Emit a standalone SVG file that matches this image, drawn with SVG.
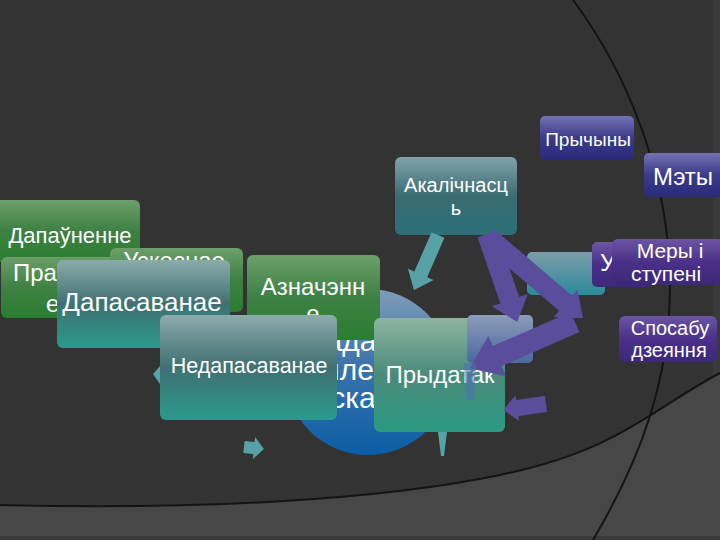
<svg xmlns="http://www.w3.org/2000/svg" width="720" height="540" viewBox="0 0 720 540">
<defs>
<linearGradient id="gGreen" x1="0" y1="0" x2="0" y2="1"><stop offset="0" stop-color="#6c9f6a"/><stop offset="0.5" stop-color="#3e8043"/><stop offset="1" stop-color="#2b7e31"/></linearGradient>
<linearGradient id="gTeal" x1="0" y1="0" x2="0" y2="1"><stop offset="0" stop-color="#8cabab"/><stop offset="0.5" stop-color="#407073"/><stop offset="1" stop-color="#2a9a8e"/></linearGradient>
<linearGradient id="gTealB" x1="0" y1="0" x2="0" y2="1"><stop offset="0" stop-color="#82a3aa"/><stop offset="0.5" stop-color="#3b6b73"/><stop offset="1" stop-color="#2b7079"/></linearGradient>
<linearGradient id="gTealC" x1="0" y1="0" x2="0" y2="1"><stop offset="0" stop-color="#7d9caa"/><stop offset="1" stop-color="#2a8a9a"/></linearGradient>
<linearGradient id="gPryd" x1="0" y1="0" x2="0" y2="1"><stop offset="0" stop-color="#8db5a2"/><stop offset="0.5" stop-color="#4a8a7a"/><stop offset="1" stop-color="#2b9b82"/></linearGradient>
<linearGradient id="gNavy" x1="0" y1="0" x2="0" y2="1"><stop offset="0" stop-color="#7272b2"/><stop offset="0.5" stop-color="#3b3b8a"/><stop offset="1" stop-color="#2a2a7a"/></linearGradient>
<linearGradient id="gPurple" x1="0" y1="0" x2="0" y2="1"><stop offset="0" stop-color="#6c55a4"/><stop offset="0.5" stop-color="#4a3088"/><stop offset="1" stop-color="#3c2878"/></linearGradient>
<linearGradient id="gBlueBox" x1="0" y1="0" x2="0" y2="1"><stop offset="0" stop-color="#8c9cb8"/><stop offset="1" stop-color="#4a68a2"/></linearGradient>
<linearGradient id="gCircle" x1="0" y1="0" x2="0" y2="1"><stop offset="0" stop-color="#7f9db8"/><stop offset="0.45" stop-color="#3d74aa"/><stop offset="1" stop-color="#0a5ea6"/></linearGradient>
</defs>
<style>
text{fill:#ffffff;font-family:"Liberation Sans",Arial,sans-serif;text-anchor:middle}
.st{text-anchor:start}
.bg-line{fill:none;stroke:#141414;stroke-width:2}
.ap{fill:#5a4e9c}
.at{fill:#56a2a6}
</style>

<g id="background">
<rect x="0" y="0" width="720" height="540" fill="#333333"/>
<rect x="713" y="0" width="7" height="540" fill="#3a3a3a"/>
<path d="M0,505 C200,510 380,500 500,475 S650,410 720,373 V540 H0 Z" fill="#474747"/>
<rect x="0" y="536" width="720" height="4" fill="#3b3b3b"/>
<path class="bg-line" d="M0,505 C200,510 380,500 500,475 S650,410 720,373"/>
<path class="bg-line" d="M573,0 C625,70 668,170 670,280 C671,380 640,460 593,540"/>
</g>

<g id="node-circle">
<circle cx="368" cy="372" r="83" fill="url(#gCircle)"/>
<text x="368" y="351" font-size="30">Даданыя</text>
<text x="368" y="380" font-size="30">члены</text>
<text x="368" y="408" font-size="30">сказа</text>
</g>

<g id="node-prychyny">
<rect x="540" y="116" width="94" height="44" rx="5" fill="url(#gNavy)"/>
<text x="588" y="146" font-size="19">Прычыны</text>
</g>
<g id="node-mety">
<rect x="644" y="153" width="80" height="44" rx="5" fill="url(#gNavy)"/>
<text x="683" y="185" font-size="24">Мэты</text>
</g>
<g id="node-akalichnasc">
<rect x="395" y="157" width="122" height="78" rx="6" fill="url(#gTealB)"/>
<text x="456" y="192" font-size="20">Акалічнасц</text>
<text x="456" y="215" font-size="20">ь</text>
</g>
<g id="node-teal-box">
<rect x="527" y="252" width="78" height="43" rx="5" fill="url(#gTealC)"/>
</g>
<g id="node-u">
<rect x="592" y="242" width="60" height="45" rx="5" fill="url(#gPurple)"/>
<text class="st" x="600" y="271" font-size="24">У</text>
</g>
<g id="node-mery">
<rect x="612" y="239" width="112" height="46" rx="6" fill="url(#gPurple)"/>
<text x="670" y="258" font-size="21">Меры і</text>
<text x="666" y="281" font-size="21">ступені</text>
</g>
<g id="node-sposabu">
<rect x="619" y="316" width="98" height="46" rx="6" fill="url(#gPurple)"/>
<text x="670" y="335" font-size="20">Спосабу</text>
<text x="669" y="357" font-size="20">дзеяння</text>
</g>

<g id="node-dapaunenne">
<rect x="-10" y="200" width="150" height="62" rx="6" fill="url(#gGreen)"/>
<text x="70" y="243" font-size="22">Дапаўненне</text>
</g>
<g id="node-pra">
<rect x="1" y="257" width="150" height="61" rx="6" fill="url(#gGreen)"/>
<text class="st" x="13" y="281" font-size="24">Пра</text>
<text class="st" x="46" y="312" font-size="24">е</text>
</g>
<g id="node-uskosnae">
<rect x="110" y="248" width="133" height="64" rx="6" fill="url(#gGreen)"/>
<text x="174" y="269" font-size="24">Ускоснае</text>
</g>
<g id="node-dapasavanae">
<rect x="57" y="260" width="173" height="88" rx="6" fill="url(#gTeal)"/>
<text x="142" y="311" font-size="26">Дапасаванае</text>
</g>
<g id="node-aznachenne">
<rect x="247" y="255" width="133" height="85" rx="6" fill="url(#gGreen)"/>
<text x="313" y="295" font-size="24">Азначэнн</text>
<text x="313" y="322" font-size="24">е</text>
</g>
<g id="node-nedapasavanae">
<rect x="160" y="315" width="177" height="105" rx="6" fill="url(#gTeal)"/>
<text x="249" y="373" font-size="21.5">Недапасаванае</text>
</g>
<g id="node-prydatak">
<rect x="374" y="318" width="131" height="114" rx="6" fill="url(#gPryd)"/>
<text x="440" y="383" font-size="24">Прыдатак</text>
</g>
<g id="node-blue-box">
<rect x="467" y="315" width="66" height="48" rx="5" fill="url(#gBlueBox)"/>
</g>

<g id="connectors">
<path class="at" d="M0,-7 H43 V-14 L60,0 L43,14 V7 H0 Z" transform="translate(438,235) rotate(113.6)"/>
<path class="ap" d="M0,-10 H70 V-19 L93,0 L70,19 V10 H0 Z" transform="translate(487,234) rotate(71)"/>
<path class="ap" d="M0,-10 H102 V-18 L125,0 L102,18 V10 H0 Z" transform="translate(488,237) rotate(40.5)"/>
<path class="ap" d="M0,-11 H85 V-22 L115,0 L85,22 V11 H0 Z" transform="translate(575,322) rotate(156.3)"/>
<path class="ap" d="M0,-8 H29 V-13 L43,0 L29,13 V8 H0 Z" transform="translate(546,404) rotate(172)"/>
<path fill="#4f6fb0" opacity="0.55" d="M464,363 H476 L474,400 H466 Z"/>
<path class="at" d="M0,-6 H10 V-11 L20,0 L10,11 V6 H0 Z" transform="translate(244,447) rotate(6)"/>
<path class="at" d="M153,374 L160,366 L160,384 Z"/>
<path class="at" d="M438,432 H447 L444,456 H441 Z"/>
</g>
</svg>
